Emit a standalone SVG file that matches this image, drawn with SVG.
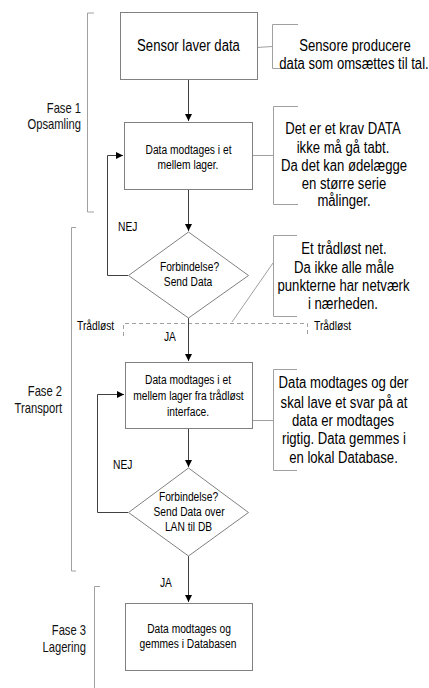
<svg xmlns="http://www.w3.org/2000/svg" width="429" height="688" viewBox="0 0 429 688">
  <style>
    .node { fill: #ffffff; stroke: #808080; stroke-width: 1; }
    .conn { fill: none; stroke: #404040; stroke-width: 1; }
    .brk { fill: none; stroke: #a0a0a0; stroke-width: 1; }
    .dash { fill: none; stroke: #a0a0a0; stroke-width: 1; stroke-dasharray: 4 3; }
    text { fill: #000000; font-family: "Liberation Sans", Arial, sans-serif; }
    .t12 { font-size: 12.5px; }
    .t16 { font-size: 16px; }
    .phase { font-size: 14px; text-anchor: end; fill: #111111; }
    .c { text-anchor: middle; }
  </style>
  <defs>
    <marker id="arrow" markerUnits="userSpaceOnUse" markerWidth="8" markerHeight="8" refX="7" refY="3.5" orient="auto">
      <path d="M0,0 L7,3.5 L0,7 z" fill="#000000"/>
    </marker>
  </defs>

  <rect width="429" height="688" fill="#ffffff"/>

  <!-- phase brackets and labels (text condensed horizontally) -->
  <g id="phase1">
    <path class="brk" d="M94,13 H87.5 V212 H94"/>
    <text class="phase" transform="translate(81,113) scale(0.8,1)">Fase 1</text>
    <text class="phase" transform="translate(81,129) scale(0.8,1)">Opsamling</text>
  </g>
  <g id="phase2">
    <path class="brk" d="M76,227.5 H71.5 V571 H76"/>
    <text class="phase" transform="translate(62,396) scale(0.8,1)">Fase 2</text>
    <text class="phase" transform="translate(62,413) scale(0.8,1)">Transport</text>
  </g>
  <g id="phase3">
    <path class="brk" d="M100,586.5 H94.5 V688"/>
    <text class="phase" transform="translate(86,635) scale(0.8,1)">Fase 3</text>
    <text class="phase" transform="translate(86,652) scale(0.8,1)">Lagering</text>
  </g>

  <!-- wireless boundary -->
  <g id="wireless">
    <path class="dash" d="M123.5,336 V323.5 H307.5 V336"/>
    <text class="t12" transform="translate(77,330) scale(0.82,1)">Trådløst</text>
    <text class="t12" transform="translate(314,330) scale(0.82,1)">Trådløst</text>
  </g>

  <!-- connectors -->
  <g id="connectors">
    <path class="conn" d="M188.5,79 V121" marker-end="url(#arrow)"/>
    <path class="conn" d="M188.5,189 V231" marker-end="url(#arrow)"/>
    <path class="conn" d="M128,275.5 H107.5 V155.5 H123" marker-end="url(#arrow)"/>
    <path class="conn" d="M188.5,318 V361" marker-end="url(#arrow)"/>
    <path class="conn" d="M188.5,428 V467" marker-end="url(#arrow)"/>
    <path class="conn" d="M128,512.5 H97.5 V394.5 H124" marker-end="url(#arrow)"/>
    <path class="conn" d="M188.5,556 V602" marker-end="url(#arrow)"/>
    <text class="t12" transform="translate(118,231) scale(0.82,1)">NEJ</text>
    <text class="t12" transform="translate(164,341) scale(0.82,1)">JA</text>
    <text class="t12" transform="translate(113,469) scale(0.82,1)">NEJ</text>
    <text class="t12" transform="translate(160,587) scale(0.82,1)">JA</text>
  </g>

  <!-- annotation brackets -->
  <g id="note-sensor">
    <path class="brk" d="M257,47.5 L272,46.5"/>
    <path class="brk" d="M298,24.5 H272.5 V68.5 H298"/>
    <text class="t16 c" transform="translate(355,51) scale(0.82,1)">Sensore producere</text>
    <text class="t16 c" transform="translate(354,69) scale(0.82,1)">data som omsættes til tal.</text>
  </g>
  <g id="note-buffer">
    <path class="brk" d="M252,155.5 H273"/>
    <path class="brk" d="M298,106.5 H273.5 V204.5 H298"/>
    <text class="t16 c" transform="translate(343,134) scale(0.82,1)">Det er et krav DATA</text>
    <text class="t16 c" transform="translate(343,153) scale(0.82,1)">ikke må gå tabt.</text>
    <text class="t16 c" transform="translate(344,171) scale(0.82,1)">Da det kan ødelægge</text>
    <text class="t16 c" transform="translate(344,189) scale(0.82,1)">en større serie</text>
    <text class="t16 c" transform="translate(344,206) scale(0.82,1)">målinger.</text>
  </g>
  <g id="note-wireless">
    <path class="brk" d="M273,263 L232,322"/>
    <path class="brk" d="M297,235.5 H273.5 V316.5 H297"/>
    <text class="t16 c" transform="translate(344,254) scale(0.82,1)">Et trådløst net.</text>
    <text class="t16 c" transform="translate(344,273) scale(0.82,1)">Da ikke alle måle</text>
    <text class="t16 c" transform="translate(343.5,291) scale(0.82,1)">punkterne har netværk</text>
    <text class="t16 c" transform="translate(343,309) scale(0.82,1)">i nærheden.</text>
  </g>
  <g id="note-local-db">
    <path class="brk" d="M252,420.5 H273"/>
    <path class="brk" d="M297,369.5 H273.5 V470.5 H297"/>
    <text class="t16 c" transform="translate(343.5,388) scale(0.82,1)">Data modtages og der</text>
    <text class="t16 c" transform="translate(344,408) scale(0.82,1)">skal lave et svar på at</text>
    <text class="t16 c" transform="translate(343,426) scale(0.82,1)">data er modtages</text>
    <text class="t16 c" transform="translate(344,444) scale(0.82,1)">rigtig. Data gemmes i</text>
    <text class="t16 c" transform="translate(343.5,463) scale(0.82,1)">en lokal Database.</text>
  </g>

  <!-- process nodes -->
  <g id="sensor">
    <rect class="node" x="120.5" y="12.5" width="137" height="67"/>
    <text class="t16 c" transform="translate(188.5,51) scale(0.82,1)">Sensor laver data</text>
  </g>
  <g id="buffer">
    <rect class="node" x="124.5" y="122.5" width="128" height="67"/>
    <text class="t12 c" transform="translate(188.5,154) scale(0.82,1)">Data modtages i et</text>
    <text class="t12 c" transform="translate(188,169) scale(0.82,1)">mellem lager.</text>
  </g>
  <g id="send-wireless">
    <polygon class="node" points="188.5,232 248.5,275.5 188.5,318 128.5,275.5"/>
    <text class="t12 c" transform="translate(189.5,271) scale(0.82,1)">Forbindelse?</text>
    <text class="t12 c" transform="translate(188,286) scale(0.82,1)">Send Data</text>
  </g>
  <g id="wireless-buffer">
    <rect class="node" x="125.5" y="362.5" width="127" height="66"/>
    <text class="t12 c" transform="translate(188,384) scale(0.82,1)">Data modtages i et</text>
    <text class="t12 c" transform="translate(188.5,400) scale(0.82,1)">mellem lager fra trådløst</text>
    <text class="t12 c" transform="translate(188,416) scale(0.82,1)">interface.</text>
  </g>
  <g id="send-lan">
    <polygon class="node" points="188.5,468 248.5,512.5 188.5,556 128.5,512.5"/>
    <text class="t12 c" transform="translate(188.5,501) scale(0.82,1)">Forbindelse?</text>
    <text class="t12 c" transform="translate(189,516) scale(0.82,1)">Send Data over</text>
    <text class="t12 c" transform="translate(188.5,531) scale(0.82,1)">LAN til DB</text>
  </g>
  <g id="database">
    <rect class="node" x="125.5" y="603.5" width="127" height="67"/>
    <text class="t12 c" transform="translate(189,633) scale(0.82,1)">Data modtages og</text>
    <text class="t12 c" transform="translate(188,648) scale(0.82,1)">gemmes i Databasen</text>
  </g>
</svg>
